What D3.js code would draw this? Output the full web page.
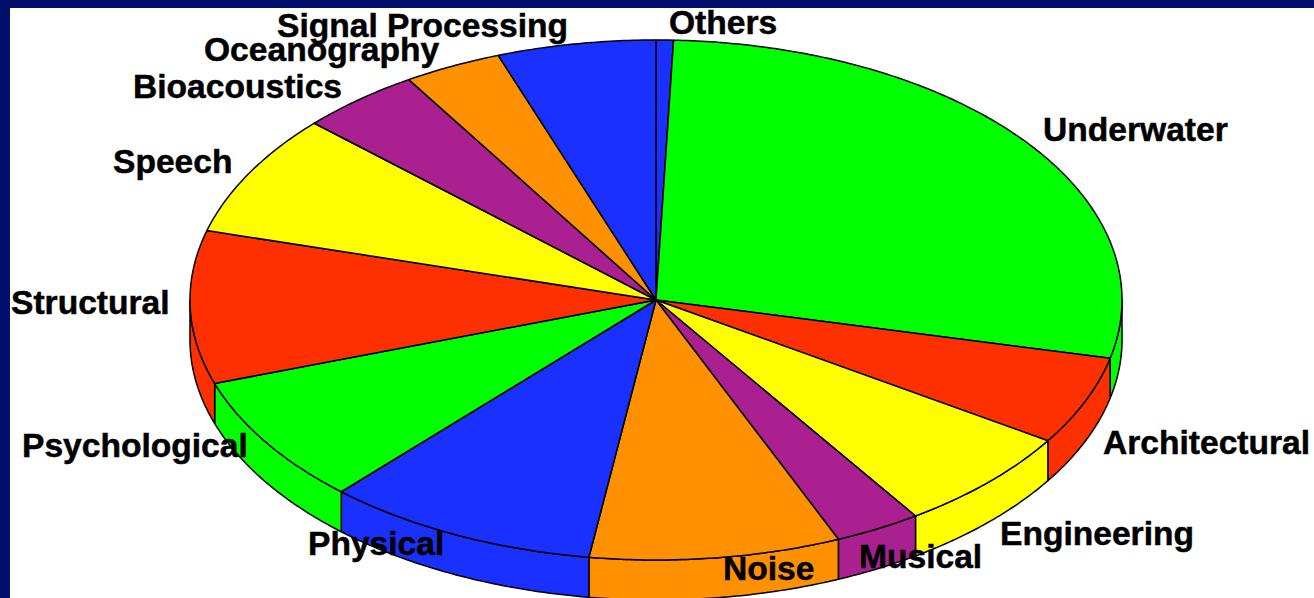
<!DOCTYPE html>
<html>
<head>
<meta charset="utf-8">
<script src="https://cdn.jsdelivr.net/npm/d3@7"></script>
<style>
  html, body { margin: 0; padding: 0; background: #000f6b; overflow: hidden; }
  svg { display: block; }
  text { font-family: "Liberation Sans", Arial, sans-serif; font-weight: bold; font-size: 33.6px; fill: #000; stroke: #000; stroke-width: 0.5px; }
</style>
</head>
<body>
<svg id="chart"></svg>
<script>
// share of each field in percent, clockwise from 12 o'clock
var categories = ["Others", "Underwater", "Architectural", "Engineering", "Musical", "Noise", "Physical",
    "Psychological", "Structural", "Speech", "Bioacoustics", "Oceanography", "Signal Processing"];
var shares = [0.6, 28.0, 5.5, 6.5, 3.0, 8.7, 9.5, 8.0, 9.5, 7.6, 4.2, 3.4, 5.5];
var sliceColors = ["#1a30ff", "#00ff00", "#ff3000", "#ffff00", "#aa2090", "#ff9000", "#1a30ff",
    "#00ff00", "#ff3000", "#ffff00", "#aa2090", "#ff9000", "#1a30ff"];

// label layout, [left edge, baseline], same order as categories
var labelPos = [[669, 34], [1043, 141], [1103, 454], [1000, 545], [859, 568], [723, 580], [308, 555],
    [22, 457], [11, 314], [113, 173], [133, 98], [204, 61], [277, 37]];

var width = 1314, height = 598;
var cx = 656, cy = 300, rx = 466, ry = 260, depth = 40;

var svg = d3.select("#chart").attr("width", width).attr("height", height);

svg.append("rect")
    .attr("x", 10).attr("y", 8)
    .attr("width", width - 10).attr("height", height - 8)
    .attr("fill", "#fff");

// tilted disc: unit circle coordinates mapped to the ellipse
var x = d3.scaleLinear().domain([-1, 1]).range([cx - rx, cx + rx]);
var y = d3.scaleLinear().domain([-1, 1]).range([cy - ry, cy + ry]);

var pie = d3.pie().sort(null).value(function(d) { return d; });
var arcs = pie(shares);

var line = d3.line()
    .x(function(d) { return x(Math.sin(d)); })
    .y(function(d) { return y(-Math.cos(d)); });

function anglesBetween(a0, a1) {
    var n = Math.max(2, Math.ceil((a1 - a0) / 0.01));
    return d3.range(n + 1).map(function(i) { return a0 + (a1 - a0) * i / n; });
}

// rim first, only the front half of the disc shows it
var rimFrom = Math.PI / 2, rimTo = Math.PI * 3 / 2;
arcs.forEach(function(d, i) {
    var a0 = Math.max(d.startAngle, rimFrom), a1 = Math.min(d.endAngle, rimTo);
    if (a1 <= a0) return;
    var pts = anglesBetween(a0, a1);
    var topEdge = line(pts);
    var bottomEdge = pts.slice().reverse().map(function(a) {
        return x(Math.sin(a)) + "," + (y(-Math.cos(a)) + depth);
    }).join("L");
    svg.append("path")
        .attr("d", topEdge + "L" + bottomEdge + "Z")
        .attr("fill", sliceColors[i])
        .attr("stroke", "#000")
        .attr("stroke-width", 1.5)
        .attr("stroke-linejoin", "round");
});

// top of the disc
svg.selectAll("path.slice")
    .data(arcs)
    .enter()
    .append("path")
    .attr("class", "slice")
    .attr("d", function(d) {
        return "M" + cx + "," + cy + "L" + line(anglesBetween(d.startAngle, d.endAngle)).slice(1) + "Z";
    })
    .attr("fill", function(d, i) { return sliceColors[i]; })
    .attr("stroke", "#000")
    .attr("stroke-width", 1.5)
    .attr("stroke-linejoin", "round");

svg.selectAll("text.label")
    .data(categories)
    .enter()
    .append("text")
    .attr("class", "label")
    .attr("x", function(d, i) { return labelPos[i][0]; })
    .attr("y", function(d, i) { return labelPos[i][1]; })
    .text(function(d) { return d; });
</script>
</body>
</html>
